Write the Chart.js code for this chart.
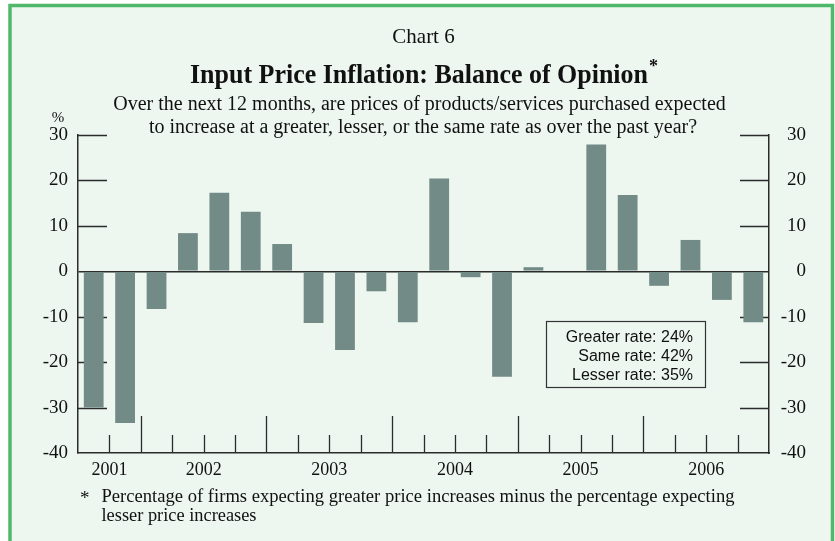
<!DOCTYPE html>
<html>
<head>
<meta charset="utf-8">
<script src="https://cdn.jsdelivr.net/npm/chart.js@4.4.0/dist/chart.umd.min.js"></script>
<style>
  body { margin: 0; background: #ffffff; }
  #wrap { position: relative; width: 835px; height: 541px; }
</style>
</head>
<body>
<div id="wrap"><canvas id="myChart"></canvas></div>
<script>
// quarterly survey, 2001 Q3 .. 2006 Q4
const quarters = [
  '2001Q3', '2001Q4',
  '2002Q1', '2002Q2', '2002Q3', '2002Q4',
  '2003Q1', '2003Q2', '2003Q3', '2003Q4',
  '2004Q1', '2004Q2', '2004Q3', '2004Q4',
  '2005Q1', '2005Q2', '2005Q3', '2005Q4',
  '2006Q1', '2006Q2', '2006Q3', '2006Q4'
];
const balance = [
  -30, -33.4,
  -8.3, 8.4, 17.3, 13.1,
  6.0, -11.4, -17.3, -4.4,
  -11.2, 20.4, -1.3, -23.2,
  0.9, 0, 27.9, 16.8,
  -3.2, 6.9, -6.3, -11.2
];
const yTicks = [30, 20, 10, 0, -10, -20, -30, -40];
const legendLines = ['Greater rate: 24%', 'Same rate: 42%', 'Lesser rate: 35%'];

const chartLabel = 'Chart 6';
const title = 'Input Price Inflation: Balance of Opinion';
const subtitle = [
  'Over the next 12 months, are prices of products/services purchased expected',
  'to increase at a greater, lesser, or the same rate as over the past year?'
];
const footnote = [
  'Percentage of firms expecting greater price increases minus the percentage expecting',
  'lesser price increases'
];

const SERIF = '"Liberation Serif", "Times New Roman", serif';
const SANS = '"Liberation Sans", Arial, sans-serif';
const BG = 'rgb(237,247,240)';
const BAR = 'rgb(114,139,135)';
const INK = '#2b2b2b';

// which tick gets the year label: middle of that year's quarters
const yearOf = q => q.slice(0, 4);
const yearLabelAt = {};
quarters.forEach((q, i) => {
  const y = yearOf(q);
  if (!(y in yearLabelAt)) {
    const n = quarters.filter(v => yearOf(v) === y).length;
    yearLabelAt[y] = i + n / 2 - 1;
  }
});

const framePlugin = {
  id: 'frame',
  beforeDraw(chart) {
    const ctx = chart.ctx;
    ctx.save();
    ctx.fillStyle = '#ffffff';
    ctx.fillRect(0, 0, chart.width, chart.height);
    ctx.fillStyle = BG;
    ctx.fillRect(10, 5, 823, chart.height);
    ctx.strokeStyle = 'rgb(80,184,106)';
    ctx.lineWidth = 3.5;
    ctx.beginPath();
    ctx.moveTo(10, chart.height + 5);
    ctx.lineTo(10, 5.5);
    ctx.lineTo(832.5, 5.5);
    ctx.lineTo(832.5, chart.height + 5);
    ctx.stroke();
    ctx.restore();
  },
  beforeDatasetsDraw(chart) {
    // inward tick marks, drawn behind the bars
    const ctx = chart.ctx;
    const area = chart.chartArea;
    const ys = chart.scales.y;
    const xs = chart.scales.x;
    ctx.save();
    ctx.strokeStyle = INK;
    ctx.lineWidth = 1.3;
    ctx.beginPath();
    yTicks.forEach(v => {
      if (v === 0 || v === -40) return;
      const py = Math.round(ys.getPixelForValue(v)) + 0.5;
      ctx.moveTo(area.left, py);
      ctx.lineTo(area.left + 29, py);
      ctx.moveTo(area.right, py);
      ctx.lineTo(area.right - 29, py);
    });
    const half = (xs.getPixelForValue(1) - xs.getPixelForValue(0)) / 2;
    for (let i = 0; i < quarters.length - 1; i++) {
      const px = Math.round(xs.getPixelForValue(i) + half) + 0.5;
      const longTick = yearOf(quarters[i]) !== yearOf(quarters[i + 1]);
      ctx.moveTo(px, area.bottom);
      ctx.lineTo(px, area.bottom - (longTick ? 37 : 18));
    }
    ctx.stroke();
    ctx.restore();
  },
  afterDraw(chart) {
    const ctx = chart.ctx;
    ctx.save();
    ctx.fillStyle = '#111';
    ctx.textAlign = 'center';
    ctx.textBaseline = 'alphabetic';

    ctx.font = '21px ' + SERIF;
    ctx.fillText(chartLabel, 423.5, 43);

    ctx.font = 'bold 27px ' + SERIF;
    ctx.fillText(title, 419, 83, 458);
    ctx.font = 'bold 18px ' + SERIF;
    ctx.textAlign = 'left';
    ctx.fillText('*', 649, 72);

    ctx.textAlign = 'center';
    ctx.font = '20px ' + SERIF;
    ctx.fillText(subtitle[0], 419.5, 110, 643);
    ctx.fillText(subtitle[1], 423, 133, 584);

    ctx.font = '15px ' + SERIF;
    ctx.fillText('%', 58, 121.5);

    ctx.textAlign = 'left';
    ctx.font = '19px ' + SERIF;
    ctx.fillText('*', 80, 504);
    ctx.fillText(footnote[0], 101.5, 502, 633);
    ctx.fillText(footnote[1], 101.5, 521, 155);

    // rate box
    ctx.fillStyle = BG;
    ctx.fillRect(546, 321, 160, 67);
    ctx.strokeStyle = '#333';
    ctx.lineWidth = 1.2;
    ctx.strokeRect(546.5, 321.5, 159, 66);
    ctx.fillStyle = '#111';
    ctx.font = '16px ' + SANS;
    ctx.textAlign = 'right';
    legendLines.forEach((t, i) => ctx.fillText(t, 693, 341.5 + i * 19));
    ctx.restore();
  }
};

const ctx = document.getElementById('myChart');

new Chart(ctx, {
  type: 'bar',
  data: {
    labels: quarters,
    datasets: [{
      label: 'Balance of opinion',
      data: balance,
      backgroundColor: BAR,
      borderWidth: 0,
      categoryPercentage: 1.0,
      barPercentage: 0.63
    }]
  },
  options: {
    responsive: true,
    maintainAspectRatio: false,
    animation: false,
    layout: { padding: { top: 135, left: 0, right: 29, bottom: 0 } },
    plugins: {
      legend: { display: false },
      tooltip: { enabled: false },
      title: { display: false }
    },
    scales: {
      x: {
        grid: { display: false, drawTicks: false },
        border: { display: true, color: INK, width: 1.5 },
        ticks: {
          autoSkip: false,
          maxRotation: 0,
          padding: 6,
          labelOffset: 15.7,
          color: '#111',
          font: { family: SERIF, size: 18 },
          callback: function (value, index) {
            const y = yearOf(quarters[index]);
            return yearLabelAt[y] === index ? y : '';
          }
        },
        afterFit(scale) { scale.height = 88; }
      },
      y: {
        position: 'left',
        min: -40,
        max: 30,
        grid: {
          drawTicks: false,
          color: c => (c.tick && c.tick.value === 0 ? INK : 'rgba(0,0,0,0)'),
          lineWidth: 1.5
        },
        border: { display: true, color: INK, width: 1.5 },
        ticks: {
          stepSize: 10,
          padding: 10,
          color: '#111',
          font: { family: SERIF, size: 19 }
        },
        afterFit(scale) { scale.width = 78; }
      },
      y2: {
        position: 'right',
        min: -40,
        max: 30,
        grid: { display: false, drawTicks: false },
        border: { display: true, color: INK, width: 1.5 },
        ticks: {
          stepSize: 10,
          padding: 9,
          crossAlign: 'far',
          color: '#111',
          font: { family: SERIF, size: 19 }
        },
        afterFit(scale) { scale.width = 37; }
      }
    }
  },
  plugins: [framePlugin]
});
</script>
</body>
</html>
